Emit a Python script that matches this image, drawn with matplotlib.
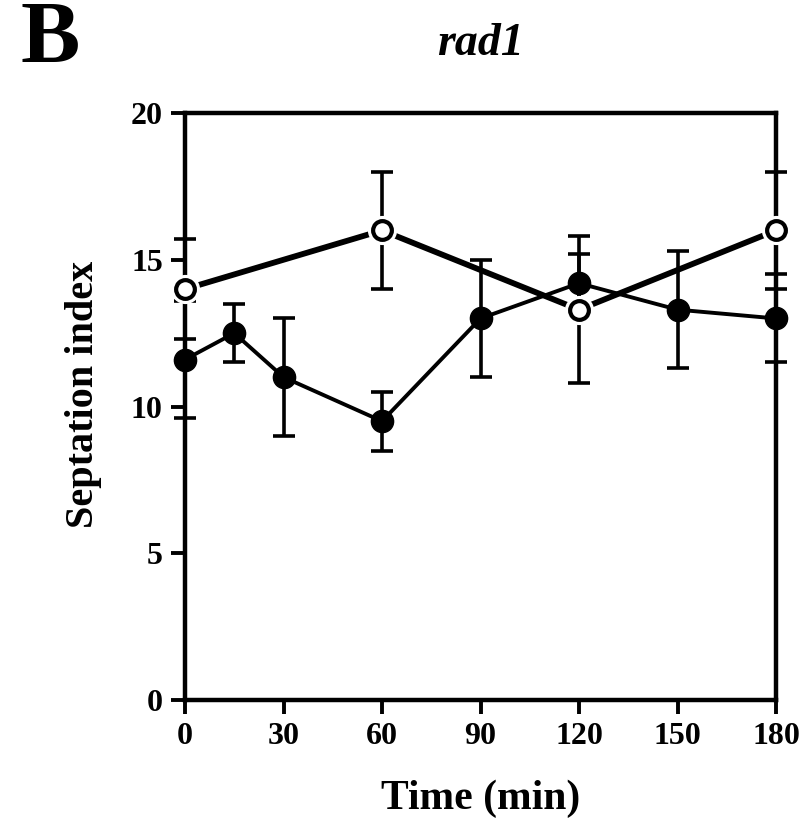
import matplotlib
matplotlib.use("Agg")
import matplotlib.pyplot as plt

# Data
time_filled = [0, 15, 30, 60, 90, 120, 150, 180]
sept_filled = [11.6, 12.5, 11.0, 9.5, 13.0, 14.2, 13.3, 13.0]
err_filled = [2.0, 1.0, 2.0, 1.0, 2.0, 1.0, 2.0, 1.5]

time_open = [0, 60, 120, 180]
sept_open = [14.0, 16.0, 13.3, 16.0]
err_open = [1.7, 2.0, 2.5, 2.0]

xticks = [0, 30, 60, 90, 120, 150, 180]
yticks = [0, 5, 10, 15, 20]

plt.rcParams['font.family'] = ['Liberation Serif', 'DejaVu Serif']
plt.rcParams['font.weight'] = 'bold'

fig = plt.figure(figsize=(8.0, 8.26), dpi=100)
ax = fig.add_axes([0.23125, 0.1525, 0.73875, 0.7107])

# filled series
ax.errorbar(time_filled, sept_filled, yerr=err_filled, color='black', lw=2.8,
            elinewidth=2.6, capsize=8, capthick=2.6, marker='o', ms=16,
            mfc='black', mec='black', zorder=3, clip_on=False)

# open series: white halo then line + open markers
ax.errorbar(time_open, sept_open, yerr=err_open, color='black', lw=4.2,
            elinewidth=2.6, capsize=8, capthick=2.6, fmt='-', zorder=4, clip_on=False)
ax.plot(time_open, sept_open, linestyle='none', marker='o', ms=20, mfc='white',
        mec='white', zorder=5, clip_on=False)
ax.plot(time_open, sept_open, linestyle='none', marker='o', ms=13.5, mfc='white',
        mec='black', mew=3.0, zorder=6, clip_on=False)

ax.set_xlim(0, 180)
ax.set_ylim(0, 20)
ax.set_xticks(xticks)
ax.set_yticks(yticks)
ax.set_xticklabels([str(v) for v in xticks])
ax.set_yticklabels([str(v) for v in yticks])
ax.tick_params(axis='both', direction='out', length=10, width=2.8, labelsize=23, pad=6)
for s in ax.spines.values():
    s.set_linewidth(3.2)
    s.set_zorder(2)

ax.set_xlabel('Time (min)', fontsize=30, fontweight='bold', labelpad=20)
ax.set_ylabel('Septation index', fontsize=29, fontweight='bold')
ax.yaxis.set_label_coords(-0.14, 0.52)
ax.set_title('rad1', fontsize=33, fontweight='bold', fontstyle='italic', pad=42)

fig.text(0.025, 0.925, 'B', fontsize=64, fontweight='bold')

fig.savefig('out.png', dpi=100)
